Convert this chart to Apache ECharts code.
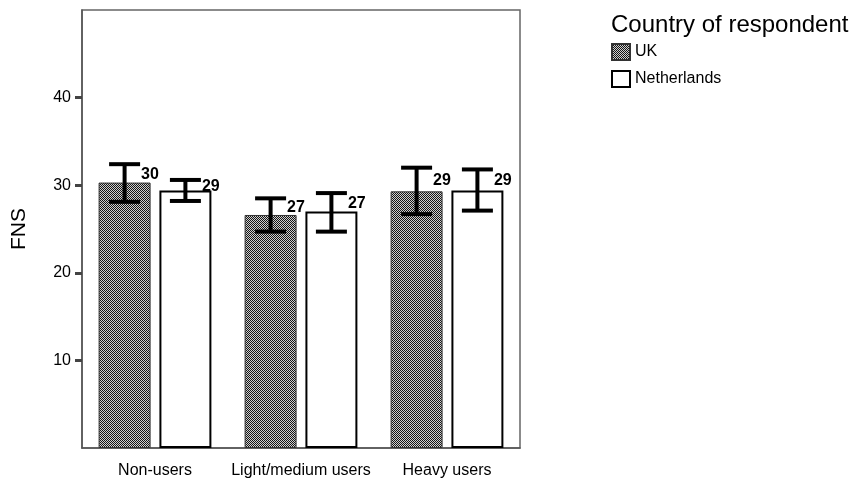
<!DOCTYPE html>
<html>
<head>
<meta charset="utf-8">
<script src="https://cdn.jsdelivr.net/npm/echarts@6/dist/echarts.min.js"></script>
<style>
html,body{margin:0;padding:0;background:#fff;}
#chart{width:855px;height:483px;}
</style>
</head>
<body>
<div id="chart"></div>
<script>
// ---- data ----
const categories = ['Non-users', 'Light/medium users', 'Heavy users'];
const seriesNames = ['UK', 'Netherlands'];
const ukMeans = [30.3, 26.6, 29.3];
const nlMeans = [29.4, 27.0, 29.4];
const ukLow = [28.1, 24.7, 26.7];
const ukHigh = [32.4, 28.5, 32.0];
const nlLow = [28.2, 24.7, 27.1];
const nlHigh = [30.6, 29.1, 31.8];
const yTicks = [10, 20, 30, 40];
const yMin = 0, yMax = 50;
const legendTitle = 'Country of respondent';
const yName = 'FNS';

// ---- styles ----
const FONT = 'Liberation Sans, Arial, Helvetica, sans-serif';
const BAR_FRAC = 0.356;
const BAR_GAP = 0.17;

function makePattern() {
  const c = document.createElement('canvas');
  c.width = 2; c.height = 2;
  const ctx = c.getContext('2d');
  ctx.fillStyle = '#cfcfcf'; ctx.fillRect(0, 0, 2, 2);
  ctx.fillStyle = '#151515';
  ctx.fillRect(0, 0, 1, 1);
  ctx.fillRect(1, 1, 1, 1);
  return c;
}
const pattern = { image: makePattern(), repeat: 'repeat' };

function errData(lo, hi, means) {
  return categories.map((c, i) => [i, lo[i], hi[i], means[i]]);
}

function makeRender(sign) {
  return function (params, api) {
    const cat = api.value(0);
    const lo = api.value(1), hi = api.value(2), mean = api.value(3);
    const band = api.size([1, 0])[0];
    const bw = band * BAR_FRAC;
    const off = sign * (bw + bw * BAR_GAP) / 2;
    const pTop = api.coord([cat, hi]);
    const pBot = api.coord([cat, lo]);
    const pMean = api.coord([cat, mean]);
    const x = pTop[0] + off;
    const half = 15.5;
    const ls = { stroke: '#000', lineWidth: 4 };
    return {
      type: 'group',
      children: [
        { type: 'line', shape: { x1: x, y1: pTop[1], x2: x, y2: pBot[1] }, style: ls },
        { type: 'line', shape: { x1: x - half, y1: pTop[1], x2: x + half, y2: pTop[1] }, style: ls },
        { type: 'line', shape: { x1: x - half, y1: pBot[1], x2: x + half, y2: pBot[1] }, style: ls },
        {
          type: 'text',
          style: {
            x: x + half + 1,
            y: (pTop[1] + pMean[1]) / 2 + 1,
            text: String(Math.round(mean)),
            font: 'bold 16px ' + FONT,
            fill: '#000',
            align: 'left',
            verticalAlign: 'middle'
          }
        }
      ]
    };
  };
}

const chart = echarts.init(document.getElementById('chart'), null, { renderer: 'canvas' });
chart.setOption({
  animation: false,
  backgroundColor: '#fff',
  textStyle: { fontFamily: FONT },
  title: {
    text: legendTitle,
    left: 611,
    top: 13,
    padding: 0,
    textStyle: { fontFamily: FONT, fontSize: 24, fontWeight: 'normal', color: '#000' }
  },
  legend: {
    data: seriesNames,
    orient: 'vertical',
    left: 611,
    top: 43,
    padding: 0,
    icon: 'rect',
    itemWidth: 18,
    itemHeight: 16,
    itemGap: 9,
    textStyle: { fontFamily: FONT, fontSize: 16, color: '#000' }
  },
  grid: {
    left: 82, right: 335, top: 10, bottom: 35,
    show: true, borderColor: '#666', borderWidth: 1.5, backgroundColor: 'transparent'
  },
  xAxis: {
    type: 'category',
    data: categories,
    axisLine: { lineStyle: { color: '#555', width: 1.5 } },
    axisTick: { alignWithLabel: true, length: 7, lineStyle: { color: '#444', width: 3 } },
    axisLabel: { color: '#000', fontSize: 16, margin: 15, interval: 0, fontFamily: FONT },
    splitLine: { show: false }
  },
  yAxis: {
    type: 'value',
    min: yMin, max: yMax, interval: 10,
    name: yName,
    nameLocation: 'middle',
    nameRotate: 90,
    nameGap: 52,
    nameTextStyle: { fontSize: 21, color: '#000', fontFamily: FONT },
    axisLine: { show: true, lineStyle: { color: '#555', width: 1.5 } },
    axisTick: { show: true, length: 7, customValues: yTicks, lineStyle: { color: '#444', width: 3 } },
    axisLabel: { color: '#000', fontSize: 16, margin: 11, customValues: yTicks, fontFamily: FONT },
    splitLine: { show: false }
  },
  series: [
    {
      name: 'UK', type: 'bar', data: ukMeans,
      barWidth: (BAR_FRAC * 100) + '%', barGap: (BAR_GAP * 100) + '%',
      itemStyle: { color: pattern, borderColor: '#333', borderWidth: 1 }
    },
    {
      name: 'Netherlands', type: 'bar', data: nlMeans,
      barWidth: (BAR_FRAC * 100) + '%', barGap: (BAR_GAP * 100) + '%',
      itemStyle: { color: '#fff', borderColor: '#000', borderWidth: 2 }
    },
    {
      name: 'UK err', type: 'custom', data: errData(ukLow, ukHigh, ukMeans),
      encode: { x: 0, y: [1, 2] }, z: 5, renderItem: makeRender(-1)
    },
    {
      name: 'NL err', type: 'custom', data: errData(nlLow, nlHigh, nlMeans),
      encode: { x: 0, y: [1, 2] }, z: 5, renderItem: makeRender(1)
    }
  ]
});
</script>
</body>
</html>
